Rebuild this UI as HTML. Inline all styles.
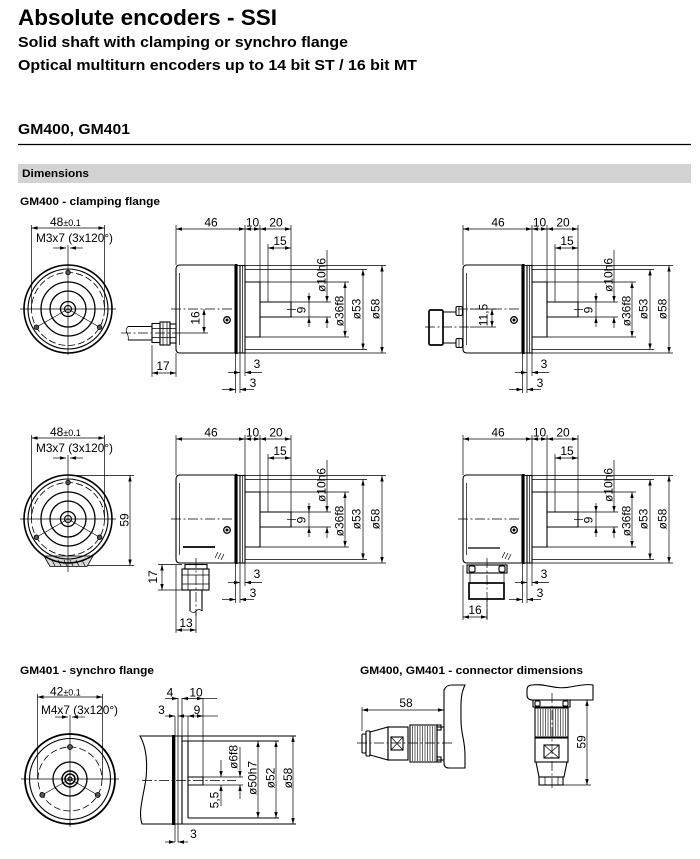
<!DOCTYPE html>
<html><head><meta charset="utf-8"><style>
html,body{margin:0;padding:0;background:#fff;}
svg{display:block;}
text{font-family:"Liberation Sans",Arial,sans-serif;fill:#000;}
.o{fill:none;stroke:#000;stroke-width:1.1}
.t{fill:none;stroke:#000;stroke-width:0.7}
.dd{fill:none;stroke:#000;stroke-width:0.7;marker-start:url(#b);marker-end:url(#a)}
.de{fill:none;stroke:#000;stroke-width:0.7;marker-end:url(#a)}
.cl{fill:none;stroke:#000;stroke-width:0.7;stroke-dasharray:10 2.5 2 2.5}
.n{font-size:12px}
.h{font-weight:bold}
</style></head><body>
<svg width="700" height="859" viewBox="0 0 700 859" xmlns="http://www.w3.org/2000/svg">
<defs>
<marker id="a" markerUnits="userSpaceOnUse" markerWidth="12" markerHeight="12" refX="0" refY="0" orient="auto" style="overflow:visible"><path d="M0,0 L-6,-1.7 L-6,1.7 Z" fill="#000"/></marker>
<marker id="b" markerUnits="userSpaceOnUse" markerWidth="12" markerHeight="12" refX="0" refY="0" orient="auto" style="overflow:visible"><path d="M0,0 L6,-1.7 L6,1.7 Z" fill="#000"/></marker>

<g id="sv">
<path class="o" d="M180,265 H235 V353 H180 Q176,353 176,349 V269 Q176,265 180,265 Z"/>
<line class="t" x1="179.5" y1="273" x2="179.5" y2="345"/>
<rect x="235" y="264" width="2.6" height="90" fill="#000"/>
<rect class="o" x="240" y="265.5" width="5" height="87.5"/>
<line class="t" x1="242.5" y1="265.5" x2="242.5" y2="353"/>
<path class="o" d="M237.6,265.5H240 M237.6,353H240"/>
<line class="cl" x1="171" y1="309" x2="236" y2="309"/>
<line class="t" x1="287" y1="309.5" x2="296" y2="309.5"/>
<circle cx="227" cy="320" r="3.3" fill="none" stroke="#000" stroke-width="1.3"/>
<circle cx="227" cy="320" r="1.5" fill="#000"/>
<path class="o" d="M245,282 H260 V337 H245"/>
<path class="o" d="M260,302 H291 V317 H260"/>
<path class="t" d="M260,282H349 M260,337H349 M291,302H331 M291,317H331 M260,282V225 M291,302V225 M176,265V225 M245,265.5V225 M268,302V244 M245,265.5H386 M245,353H386 M245,269.5H367 M245,349.5H367 M235.5,354V393 M240,353V393 M245,353V376"/>
<line class="dd" x1="176" y1="229" x2="245" y2="229"/>
<line class="dd" x1="245" y1="229" x2="260" y2="229"/>
<line class="dd" x1="260" y1="229" x2="291" y2="229"/>
<line class="dd" x1="268" y1="248" x2="291" y2="248"/>
<line class="de" x1="327" y1="250" x2="327" y2="302"/>
<line class="de" x1="327" y1="328" x2="327" y2="317"/>
<line class="de" x1="309" y1="293" x2="309" y2="302"/>
<line class="de" x1="309" y1="327" x2="309" y2="317"/>
<line class="t" x1="309" y1="302" x2="309" y2="317"/>
<line class="dd" x1="345" y1="282" x2="345" y2="337"/>
<line class="dd" x1="363" y1="269.5" x2="363" y2="349.5"/>
<line class="dd" x1="382" y1="265.5" x2="382" y2="353"/>
<line class="de" x1="228" y1="372.5" x2="240" y2="372.5"/>
<line class="de" x1="262" y1="372.5" x2="245" y2="372.5"/>
<line class="de" x1="222" y1="389.5" x2="235.5" y2="389.5"/>
<line class="de" x1="254" y1="389.5" x2="240" y2="389.5"/>
</g>

<g id="fv">
<line class="t" x1="-48" y1="0" x2="48" y2="0"/>
<line class="t" x1="0" y1="-64" x2="0" y2="46"/>
<line class="t" x1="0" y1="0" x2="-31.6" y2="18.25"/>
<line class="t" x1="0" y1="0" x2="31.6" y2="18.25"/>
<circle r="44" fill="none" stroke="#000" stroke-width="1.6"/>
<circle r="40" class="o"/>
<circle r="36.5" fill="none" stroke="#000" stroke-width="0.8" stroke-dasharray="7 3"/>
<circle r="27" fill="none" stroke="#000" stroke-width="1.3"/>
<circle r="18" fill="none" stroke="#000" stroke-width="1.3"/>
<circle r="7.5" fill="none" stroke="#000" stroke-width="1.3"/>
<circle r="3.5" class="o"/>
<circle cx="0" cy="-36.5" r="2.3" fill="#555" stroke="#000" stroke-width="0.8"/>
<circle cx="-31.6" cy="18.25" r="2.3" fill="#555" stroke="#000" stroke-width="0.8"/>
<circle cx="31.6" cy="18.25" r="2.3" fill="#555" stroke="#000" stroke-width="0.8"/>
<path class="t" d="M-36.5,0V-84 M36.5,0V-84"/>
<line class="dd" x1="-36.5" y1="-81" x2="36.5" y2="-81"/>
<line class="de" x1="-15" y1="-61" x2="-2" y2="-61"/>
<line class="de" x1="15" y1="-61" x2="2" y2="-61"/>
</g>
</defs>

<text x="18" y="25" font-size="22" class="h" textLength="259" lengthAdjust="spacingAndGlyphs">Absolute encoders - SSI</text>
<text x="18" y="47" font-size="15" class="h" textLength="330" lengthAdjust="spacingAndGlyphs">Solid shaft with clamping or synchro flange</text>
<text x="18" y="70" font-size="15" class="h" textLength="399" lengthAdjust="spacingAndGlyphs">Optical multiturn encoders up to 14 bit ST / 16 bit MT</text>
<text x="18" y="134" font-size="15" class="h" textLength="112" lengthAdjust="spacingAndGlyphs">GM400, GM401</text>
<line x1="18" y1="144.5" x2="691" y2="144.5" stroke="#000" stroke-width="1.2"/>
<rect x="18" y="164" width="673" height="19" fill="#d3d3d3"/>
<text x="22" y="177" font-size="11" class="h" textLength="67" lengthAdjust="spacingAndGlyphs">Dimensions</text>
<text x="20" y="205" font-size="11" class="h" textLength="140" lengthAdjust="spacingAndGlyphs">GM400 - clamping flange</text>
<text x="20" y="674" font-size="11" class="h" textLength="134" lengthAdjust="spacingAndGlyphs">GM401 - synchro flange</text>
<text x="360" y="674" font-size="11" class="h" textLength="223" lengthAdjust="spacingAndGlyphs">GM400, GM401 - connector dimensions</text>

<use href="#fv" x="68" y="309"/>
<text x="50" y="226" class="n">48<tspan font-size="9">±0.1</tspan></text>
<text x="36" y="242" class="n" textLength="77" lengthAdjust="spacingAndGlyphs">M3x7 (3x120°)</text>

<use href="#sv"/>
<use href="#sv" x="287"/>
<use href="#sv" y="210"/>
<use href="#sv" x="287" y="210"/>

<g class="n" text-anchor="middle">
<text x="211" y="226.5">46</text><text x="252.5" y="226.5">10</text><text x="276" y="226.5">20</text><text x="280" y="245">15</text>
<text transform="translate(325.5,275) rotate(-90)">ø10h6</text>
<text transform="translate(305.5,310) rotate(-90)">9</text>
<text transform="translate(343.5,311) rotate(-90)">ø36f8</text>
<text transform="translate(360.5,309) rotate(-90)">ø53</text>
<text transform="translate(379.5,309) rotate(-90)">ø58</text>
<text x="257" y="368">3</text><text x="253" y="387">3</text>
<text x="498" y="226.5">46</text><text x="539.5" y="226.5">10</text><text x="563" y="226.5">20</text><text x="567" y="245">15</text>
<text transform="translate(612.5,275) rotate(-90)">ø10h6</text>
<text transform="translate(592.5,310) rotate(-90)">9</text>
<text transform="translate(630.5,311) rotate(-90)">ø36f8</text>
<text transform="translate(647.5,309) rotate(-90)">ø53</text>
<text transform="translate(666.5,309) rotate(-90)">ø58</text>
<text x="544" y="368">3</text><text x="540" y="387">3</text>
<text x="211" y="436.5">46</text><text x="252.5" y="436.5">10</text><text x="276" y="436.5">20</text><text x="280" y="455">15</text>
<text transform="translate(325.5,485) rotate(-90)">ø10h6</text>
<text transform="translate(305.5,520) rotate(-90)">9</text>
<text transform="translate(343.5,521) rotate(-90)">ø36f8</text>
<text transform="translate(360.5,519) rotate(-90)">ø53</text>
<text transform="translate(379.5,519) rotate(-90)">ø58</text>
<text x="257" y="578">3</text><text x="253" y="597">3</text>
<text x="498" y="436.5">46</text><text x="539.5" y="436.5">10</text><text x="563" y="436.5">20</text><text x="567" y="455">15</text>
<text transform="translate(612.5,485) rotate(-90)">ø10h6</text>
<text transform="translate(592.5,520) rotate(-90)">9</text>
<text transform="translate(630.5,521) rotate(-90)">ø36f8</text>
<text transform="translate(647.5,519) rotate(-90)">ø53</text>
<text transform="translate(666.5,519) rotate(-90)">ø58</text>
<text x="544" y="578">3</text><text x="540" y="597">3</text>
</g>

<rect class="o" x="152" y="323.5" width="8" height="19"/>
<rect class="o" x="160" y="322" width="10" height="23"/>
<rect class="o" x="170" y="324" width="6" height="19"/>
<path class="t" d="M152,328.5H176 M152,337.5H176 M163,322V345 M167,322V345"/>
<path class="o" d="M152,326.5H128 M152,340H128"/>
<path class="t" d="M128,326.5 Q125,330 127,333 Q129,337 128,340"/>
<line class="cl" x1="121" y1="333" x2="182" y2="333"/>
<line class="t" x1="182" y1="333" x2="208" y2="333"/>
<line class="dd" x1="204" y1="309" x2="204" y2="333"/>
<text class="n" text-anchor="middle" transform="translate(199.5,318) rotate(-90)">16</text>
<path class="t" d="M152,345V377 M176,353V377"/>
<line class="dd" x1="152" y1="373" x2="176" y2="373"/>
<text class="n" x="163" y="370" text-anchor="middle">17</text>

<rect x="429" y="310" width="14" height="35" rx="1.5" fill="none" stroke="#000" stroke-width="1.7"/>
<path class="o" d="M443,312H456 M443,343H456"/>
<rect class="o" x="456" y="306.5" width="6.5" height="9" rx="1.5"/>
<rect class="o" x="456" y="338.5" width="6.5" height="9" rx="1.5"/>
<path class="t" d="M459,306.5V315.5 M459,338.5V347.5"/>
<line class="cl" x1="425" y1="327" x2="470" y2="327"/>
<line class="t" x1="470" y1="327" x2="496" y2="327"/>
<line class="t" x1="470" y1="309" x2="496" y2="309"/>
<line class="dd" x1="492" y1="309" x2="492" y2="327"/>
<text class="n" text-anchor="middle" transform="translate(487.5,315) rotate(-90)">11,5</text>

<polygon points="44,556 50,566.5 87,566.5 93,556" fill="#d8d8d8" stroke="#000" stroke-width="0.8"/>
<path class="t" d="M52,560l3,6 M58,560l3,6 M64,560l3,6 M70,560l3,6 M76,560l3,6 M82,560l3,6"/>
<use href="#fv" x="68" y="519"/>
<line class="t" x1="68" y1="565" x2="68" y2="572"/>
<text x="50" y="436" class="n">48<tspan font-size="9">±0.1</tspan></text>
<text x="36" y="452" class="n" textLength="77" lengthAdjust="spacingAndGlyphs">M3x7 (3x120°)</text>
<path class="t" d="M70,475.5H134 M88,565.5H134"/>
<line class="dd" x1="130" y1="475.5" x2="130" y2="565.5"/>
<text class="n" text-anchor="middle" transform="translate(128.5,520) rotate(-90)">59</text>

<line x1="183" y1="547" x2="215" y2="547" stroke="#000" stroke-width="1.8"/>
<path class="t" d="M215,558l3,-6 M218,559l3,-6 M221,560l3,-6"/>
<rect class="o" x="185" y="564.5" width="22" height="4.5"/>
<rect class="o" x="182" y="569" width="27" height="21"/>
<path class="t" d="M188,569V590 M203,569V590 M182,575H209 M182,584H209"/>
<path class="o" d="M190,590V611 M202,590V611"/>
<path class="t" d="M190,611 Q194,614 196,611 Q199,608 202,611"/>
<line class="cl" x1="196" y1="558" x2="196" y2="616"/>
<path class="t" d="M158,564.5H182 M158,590H182 M176,565V633 M196,612V633"/>
<line class="dd" x1="162" y1="564.5" x2="162" y2="590"/>
<text class="n" text-anchor="middle" transform="translate(157,577) rotate(-90)">17</text>
<line class="dd" x1="176" y1="630" x2="196" y2="630"/>
<text class="n" x="186" y="627" text-anchor="middle">13</text>

<line x1="468" y1="548" x2="500" y2="548" stroke="#000" stroke-width="1.3"/>
<path class="t" d="M502,558l3,-6 M505,559l3,-6 M508,560l3,-6"/>
<rect class="o" x="467" y="565" width="40" height="8"/>
<rect class="o" x="469" y="566" width="6" height="6" rx="1.5"/>
<rect class="o" x="499" y="566" width="6" height="6" rx="1.5"/>
<path class="t" d="M470,573V583 M504,573V583"/>
<rect x="469" y="583" width="35" height="16" fill="none" stroke="#000" stroke-width="1.7"/>
<line class="cl" x1="487" y1="558" x2="487" y2="621"/>
<path class="t" d="M463,565V620 M487,600V620"/>
<line class="dd" x1="463" y1="617" x2="487" y2="617"/>
<text class="n" x="475" y="614" text-anchor="middle">16</text>

<g transform="translate(70,779)">
<line class="t" x1="-49" y1="0" x2="49" y2="0"/>
<line class="t" x1="0" y1="-64" x2="0" y2="48"/>
<line class="t" x1="0" y1="0" x2="-27.7" y2="16"/>
<line class="t" x1="0" y1="0" x2="27.7" y2="16"/>
<circle r="45" fill="none" stroke="#000" stroke-width="1.8"/>
<circle r="40.5" class="o"/>
<circle r="32" fill="none" stroke="#000" stroke-width="0.8" stroke-dasharray="7 3"/>
<circle r="17" fill="none" stroke="#000" stroke-width="1.3"/>
<circle r="8" fill="none" stroke="#000" stroke-width="1.5"/>
<circle r="5" fill="none" stroke="#000" stroke-width="1.5"/>
<circle r="2" class="o"/>
<circle cx="0" cy="-32" r="2.5" fill="#555" stroke="#000" stroke-width="0.8"/>
<circle cx="-27.7" cy="16" r="2.5" fill="#555" stroke="#000" stroke-width="0.8"/>
<circle cx="27.7" cy="16" r="2.5" fill="#555" stroke="#000" stroke-width="0.8"/>
<path class="t" d="M-32.5,0V-85 M32.5,0V-85"/>
<line class="dd" x1="-32.5" y1="-82" x2="32.5" y2="-82"/>
<line class="de" x1="-15" y1="-62" x2="-2" y2="-62"/>
<line class="de" x1="15" y1="-62" x2="2" y2="-62"/>
</g>
<text x="50" y="695.5" class="n">42<tspan font-size="9">±0.1</tspan></text>
<text x="41" y="714" class="n" textLength="77" lengthAdjust="spacingAndGlyphs">M4x7 (3x120°)</text>

<path class="o" d="M172,736 H140 C148,750 148,772 144,790 C141,805 139,815 142,824 H172"/>
<rect x="172" y="735" width="3" height="90" fill="#000"/>
<path class="o" d="M175,736H296 M175,824H296 M182,736V824 M188,741V818 M182,741H279 M188,818H279"/>
<path class="t" d="M175,716V842 M178,698V842 M182,698V736 M188,716V741 M203,698V777"/>
<path class="o" d="M188,777H203V785H188"/>
<path class="t" d="M203,777H243 M203,785H243"/>
<line class="cl" x1="142" y1="780.5" x2="236" y2="780.5"/>
<line class="dd" x1="258" y1="741" x2="258" y2="818"/>
<line class="dd" x1="276" y1="741" x2="276" y2="818"/>
<line class="dd" x1="293" y1="736" x2="293" y2="824"/>
<line class="de" x1="240" y1="747" x2="240" y2="777"/>
<line class="de" x1="240" y1="799" x2="240" y2="785"/>
<line class="de" x1="221" y1="760" x2="221" y2="777"/>
<line class="de" x1="221" y1="806" x2="221" y2="785"/>
<line class="de" x1="165" y1="698.5" x2="178" y2="698.5"/>
<line class="dd" x1="182" y1="698.5" x2="203" y2="698.5"/>
<line class="t" x1="203" y1="698.5" x2="217" y2="698.5"/>
<line class="de" x1="165" y1="716" x2="175" y2="716"/>
<line class="de" x1="188" y1="716" x2="178" y2="716"/>
<line class="dd" x1="188" y1="716" x2="203" y2="716"/>
<line class="t" x1="203" y1="716" x2="218" y2="716"/>
<line class="de" x1="165" y1="842" x2="175" y2="842"/>
<line class="de" x1="188" y1="842" x2="178" y2="842"/>
<g class="n" text-anchor="middle">
<text x="170" y="696.5">4</text><text x="196" y="696.5">10</text>
<text x="161.5" y="714">3</text><text x="197" y="714">9</text>
<text x="193.5" y="838">3</text>
<text transform="translate(237.5,757) rotate(-90)">ø6f8</text>
<text transform="translate(256.5,778) rotate(-90)">ø50h7</text>
<text transform="translate(274.5,778) rotate(-90)">ø52</text>
<text transform="translate(292,778) rotate(-90)">ø58</text>
<text transform="translate(218.5,800) rotate(-90)">5,5</text>
</g>

<path class="o" d="M444,690 Q446,685 452,685 H465 C460,695 461,705 461,720 C461,735 465,740 465,755 V768 H449 Q444,768 444,763 Z"/>
<rect class="o" x="362" y="734" width="4" height="19" rx="1"/>
<rect class="o" x="366" y="731" width="4" height="25" rx="1"/>
<polygon class="o" points="370,732 388,727 388,760 370,755"/>
<rect class="o" x="388" y="727" width="20" height="33"/>
<rect class="o" x="391" y="737" width="12" height="13"/>
<path class="t" d="M391,737L403,750 M403,737L391,750"/>
<rect class="o" x="410" y="725" width="27" height="37"/>
<path stroke="#000" stroke-width="0.6" fill="none" d="M412.5,726V761M415,726V761M417.5,726V761M420,726V761M422.5,726V761M425,726V761M427.5,726V761M430,726V761M432.5,726V761M435,726V761"/>
<rect class="o" x="437" y="727" width="7" height="33"/>
<rect class="o" x="437" y="725" width="4" height="5"/>
<rect class="o" x="437" y="757" width="4" height="5"/>
<line class="cl" x1="357" y1="743" x2="452" y2="743"/>
<line class="t" x1="362" y1="707" x2="362" y2="731"/>
<line class="dd" x1="362" y1="710" x2="444" y2="710"/>
<text class="n" x="406" y="707" text-anchor="middle">58</text>

<path class="o" d="M527,690 Q527,685 532,685 C545,683 555,690 570,687 C580,685 588,684 593,685 V700 H533 Q527,700 527,695 Z"/>
<rect class="o" x="533" y="700" width="37" height="7"/>
<rect class="o" x="535" y="701" width="5" height="5" rx="1"/>
<rect class="o" x="563" y="701" width="5" height="5" rx="1"/>
<rect class="o" x="535" y="708" width="33" height="29"/>
<path stroke="#000" stroke-width="0.6" fill="none" d="M538,709V736M540.5,709V736M543,709V736M545.5,709V736M548,709V736M550.5,709V736M553,709V736M555.5,709V736M558,709V736M560.5,709V736M563,709V736M565.5,709V736"/>
<rect class="o" x="535" y="738" width="33" height="24"/>
<rect class="o" x="544" y="745" width="15" height="13"/>
<path class="t" d="M544,745L559,758 M559,745L544,758"/>
<polygon class="o" points="536,762 567,762 564,777 539,777"/>
<rect class="o" x="539" y="777" width="24" height="8"/>
<path class="t" d="M545,777V785 M558,777V785"/>
<line class="cl" x1="552" y1="693" x2="552" y2="790"/>
<line class="t" x1="563" y1="785" x2="591" y2="785"/>
<line class="dd" x1="587" y1="700" x2="587" y2="785"/>
<text class="n" text-anchor="middle" transform="translate(585.5,742) rotate(-90)">59</text>
</svg>
</body></html>
